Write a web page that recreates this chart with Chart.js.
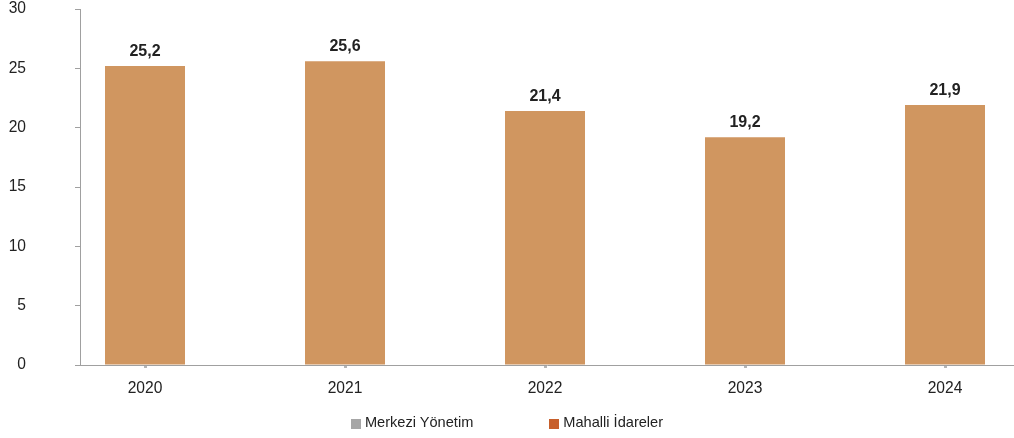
<!DOCTYPE html>
<html lang="tr">
<head>
<meta charset="utf-8">
<title>Mahalli İdareler</title>
<script src="https://cdn.jsdelivr.net/npm/chart.js@4/dist/chart.umd.min.js"></script>
<style>
  html, body { margin: 0; padding: 0; background: #fff; }
  #wrap { position: relative; width: 1014px; height: 438px; }
  #legend {
    position: absolute; left: 0; right: 0; top: 414px;
    display: flex; justify-content: center; gap: 76px;
    font-family: "Liberation Sans", Arial, sans-serif; font-size: 14.6px; color: #222;
  }
  #legend .item { display: flex; align-items: center; }
  #legend .box { width: 10px; height: 10px; margin-right: 4px; margin-top: 3px; }
</style>
</head>
<body>
<div id="wrap">
  <canvas id="chart" width="1014" height="438"></canvas>
  <div id="legend"></div>
</div>
<script>
// Years on the horizontal axis
const categories = ['2020', '2021', '2022', '2023', '2024'];
// Bar heights
const values = [25.2, 25.6, 21.4, 19.2, 21.9];
// Vertical axis ticks
const yTicks = [0, 5, 10, 15, 20, 25, 30];
// Legend entries
const legendLabels = ['Merkezi Yönetim', 'Mahalli İdareler'];
const legendColors = ['#A6A6A6', '#C75F2B'];

const FONT = '"Liberation Sans", Arial, sans-serif';
const AXIS = '#A0A0A0';
const TEXT = '#222222';

// Prints each bar's value just above it
const valueLabels = {
  id: 'valueLabels',
  afterDatasetsDraw(chart) {
    const ctx = chart.ctx;
    ctx.save();
    ctx.font = 'bold 16px ' + FONT;
    ctx.fillStyle = TEXT;
    ctx.textAlign = 'center';
    ctx.textBaseline = 'alphabetic';
    chart.getDatasetMeta(0).data.forEach((bar, i) => {
      ctx.fillText(values[i].toFixed(1).replace('.', ','), bar.x, bar.y - 10);
    });
    ctx.restore();
  }
};

new Chart(document.getElementById('chart'), {
  type: 'bar',
  data: {
    datasets: [{
      data: values.map((v, i) => ({ x: i, y: v })),
      backgroundColor: '#D09660',
      borderWidth: 0,
      barPercentage: 0.4,
      categoryPercentage: 1
    }]
  },
  options: {
    responsive: false,
    animation: false,
    layout: { padding: 0 },
    plugins: { legend: { display: false }, tooltip: { enabled: false } },
    scales: {
      x: {
        type: 'linear',
        offset: false,
        min: -0.325,
        max: categories.length - 1 + 0.345,
        afterBuildTicks(scale) {
          scale.ticks = categories.map((c, i) => ({ value: i }));
        },
        afterFit(scale) { scale.height = 73; },
        ticks: {
          callback: (v) => categories[v],
          font: { family: FONT, size: 15.6 },
          color: TEXT,
          padding: 11,
          maxRotation: 0
        },
        grid: {
          offset: false,
          drawOnChartArea: false,
          tickLength: 3,
          tickWidth: 3,
          tickColor: '#B5B5B5'
        },
        border: { color: AXIS, width: 1 }
      },
      y: {
        min: 0,
        max: 30,
        afterBuildTicks(scale) {
          scale.ticks = yTicks.map(v => ({ value: v }));
        },
        afterFit(scale) {
          scale.width = 80;
          // keep only half a label of room above the top tick
          scale.paddingTop = 9;
          scale.paddingBottom = 9;
        },
        ticks: {
          font: { family: FONT, size: 15.6 },
          color: TEXT,
          padding: 49
        },
        grid: {
          drawOnChartArea: false,
          tickLength: 5,
          tickColor: AXIS
        },
        border: { color: AXIS, width: 1 }
      }
    }
  },
  plugins: [valueLabels]
});

// Legend below the chart
const legend = document.getElementById('legend');
legendLabels.forEach((label, i) => {
  const item = document.createElement('div');
  item.className = 'item';
  const box = document.createElement('span');
  box.className = 'box';
  box.style.background = legendColors[i];
  const text = document.createElement('span');
  text.textContent = label;
  item.appendChild(box);
  item.appendChild(text);
  legend.appendChild(item);
});
</script>
</body>
</html>
